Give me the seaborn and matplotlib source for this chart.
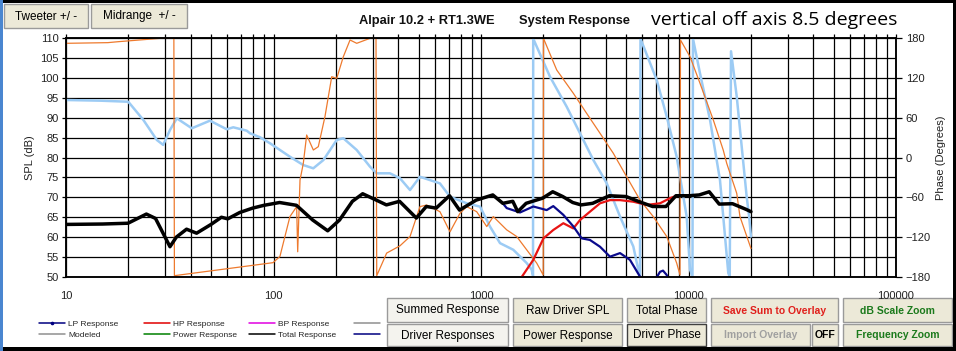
import matplotlib
matplotlib.use("Agg")
import matplotlib.pyplot as plt
import seaborn as sns
import pandas as pd
from matplotlib.lines import Line2D
from matplotlib.patches import Rectangle
from matplotlib.ticker import MultipleLocator, LogLocator, FuncFormatter, NullFormatter

# ---------------- data ----------------
freq_total = [10, 15, 19.9, 24.4, 27, 31.7, 34, 38.1, 42.6, 50, 56.1, 60.2, 68.8, 79.4, 90,
              107, 129, 154.5, 182.5, 208, 240, 269, 313, 350, 405, 488, 545, 608, 705, 788,
              948, 1140, 1274, 1423, 1504, 1650, 1983, 2216, 2477, 2768, 3036, 3453, 4155, 4998, 5794,
              6714, 7785, 8700, 10080, 11260, 12585, 14060, 16300, 18900, 20000]
spl_total = [63.2, 63.3, 63.5, 65.8, 64.7, 57.6, 60.0, 62.0, 61.0, 63.2, 65.0, 64.6, 66.2, 67.3, 68.0,
             68.7, 68.0, 64.3, 61.6, 64.3, 69.0, 70.9, 69.3, 68.1, 69.0, 64.8, 67.7, 67.3, 70.4, 66.8,
             69.3, 70.6, 68.5, 69.0, 66.4, 68.5, 69.8, 71.4, 70.2, 68.7, 68.1, 68.5, 70.4, 70.2, 68.9,
             67.7, 67.7, 70.4, 70.4, 70.6, 71.4, 68.3, 68.4, 67.0, 66.4]

freq_lp = [1274, 1330, 1542, 1786, 2073, 2230, 2493, 2786, 3057, 3350, 3746, 4185, 4677, 5224,
           5837, 6500, 7290, 7537, 7855, 8300, 10000]
spl_lp = [68.5, 67.3, 66.2, 67.7, 66.8, 67.8, 65.6, 62.7, 59.7, 59.3, 57.6, 55.1, 56.0, 54.3,
          50.1, 47.0, 51.3, 51.6, 50.5, 46.0, 40.0]

freq_hp = [1300, 1571, 1786, 2000, 2230, 2493, 2786, 3000, 3350, 3746, 4185, 4677, 5420, 6290,
           7290, 8150, 8770]
spl_hp = [40.0, 50.0, 54.3, 59.7, 61.8, 63.5, 62.2, 64.3, 66.4, 68.5, 69.3, 69.3, 68.9, 68.1,
          68.5, 69.8, 70.4]

freq_phase_a = [10, 14.6, 19.96, 23.6, 27.4, 29.4, 31.7, 34.2, 40.4, 49.4, 59.5, 64, 74.3, 77, 86.1,
                96.2, 120, 139, 155.5, 174, 201.7, 217, 251.8, 291.7, 314, 364, 407, 455, 508,
                634, 709, 853, 989, 1105, 1235, 1431, 1660, 1754, 1781, 1785, 2150, 2588, 3000,
                3477, 4035, 4677, 5420, 5728, 5837, 5870, 7028, 7855, 8770, 9800, 10170, 10450,
                10510, 11360, 12700, 14180, 15550, 15800, 16030, 17080, 19070, 19600, 20000]
phase_a = [86.6, 85.6, 84.0, 56.5, 26.4, 19.0, 41.4, 59.0, 44.0, 55.5, 42.5, 45.5, 40.4, 36.5, 30.5,
           21.4, 1.2, -11.3, -16.3, -3.8, 26.4, 29.0, 11.3, -13.8, -23.8, -23.8, -31.3, -49.0, -29.0,
           -39.0, -59.0, -69.0, -74.0, -104.0, -129.0, -139.0, -159.0, -169.0, -178.0, 179.0, 121.7, 76.5, 36.5,
           -3.7, -38.8, -89.0, -134.0, -169.0, -179.0, 179.0, 116.7, 61.5, 1.2, -89.0, -169.0, -179.0,
           179.0, 126.8, 56.5, -33.9, -174.0, -179.5, 160.0, 91.6, -59.0, -89.0, -119.0]

freq_phase_b = [10, 15.9, 17.8, 28.4, 33.1, 33.3, 99.5, 107.4, 120, 129.3, 130.8, 134.2, 139.2, 144.5,
                155.6, 164.4, 177, 190.8, 201.7, 217, 233.8, 251.8, 291.7, 311.9, 314.4, 351, 407,
                455, 508, 547, 634, 709, 792, 853, 953, 1066, 1146, 1330, 1486, 1660, 1855, 1995,
                2000, 2317, 2786, 3228, 3746, 4340, 5035, 5837, 6762, 7855, 8770, 9100, 9150,
                10170, 11360, 13170, 14700, 15280, 17080, 17700, 20000]
phase_b = [172.0, 173.0, 174.4, 179.5, 179.8, -178.0, -158.4, -149.0, -89.0, -74.0, -142.0, -34.0, -8.8, 33.9,
           11.3, 16.3, 61.5, 121.7, 119.2, 151.8, 177.0, 172.0, 179.5, 179.8, -178.0, -144.0, -133.0,
           -119.0, -74.0, -71.6, -81.6, -112.0, -84.0, -74.0, -81.6, -104.0, -89.0, -109.0, -119.0, -139.0, -159.0, -177.0,
           179.5, 131.8, 96.7, 66.6, 36.5, 6.4, -29.0, -64.0, -89.0, -119.0, -159.0, -177.0, 177.0,
           151.8, 111.8, 56.5, 11.3, -8.7, -54.0, -89.0, -137.0]

x_ticks = [10, 100, 1000, 10000, 100000]
spl_ticks = list(range(50, 111, 5))
phase_ticks = list(range(-180, 181, 60))

legend_cols = [
    [("LP Response", "#000080"), ("Modeled", "#909090")],
    [("HP Response", "#E00000"), ("Power Response", "#008000")],
    [("BP Response", "#E000E0"), ("Total Response", "#000000")],
    [("", "#909090"), ("", "#000080")],
]

# ---------------- figure ----------------
sns.set_theme(style="white")
plt.rcParams["font.family"] = ["Liberation Sans", "DejaVu Sans"]

W, H = 956, 351
fig = plt.figure(figsize=(W / 100, H / 100), dpi=100)
fig.patch.set_facecolor("white")

def fx(px):
    return px / W

def fy(py):
    return 1 - py / H

ax = fig.add_axes([fx(66), fy(277), (896 - 66) / W, (277 - 38) / H])
ax2 = ax.twinx()
ax.set_zorder(ax2.get_zorder() + 1)
ax.patch.set_visible(False)
ax2.patch.set_visible(False)
ax.set_xscale("log")

# phase curves (right axis, drawn below SPL curves)
sns.lineplot(x=freq_phase_a, y=phase_a, ax=ax2, sort=False, estimator=None,
             color="#9CCBF4", lw=1.8)
sns.lineplot(x=freq_phase_b, y=phase_b, ax=ax2, sort=False, estimator=None,
             color="#EE7A2E", lw=0.9)

# SPL curves
sns.lineplot(x=freq_hp, y=spl_hp, ax=ax, sort=False, estimator=None, color="#E81414", lw=1.6)
sns.lineplot(x=freq_lp, y=spl_lp, ax=ax, sort=False, estimator=None, color="#0A0A8C", lw=1.6)
sns.lineplot(x=freq_total, y=spl_total, ax=ax, sort=False, estimator=None, color="black", lw=2.5)

ax.set_xlim(10, 100000)
ax.set_ylim(50, 110)
ax2.set_ylim(-180, 180)

ax.xaxis.set_major_locator(LogLocator(base=10))
ax.xaxis.set_minor_locator(LogLocator(base=10, subs=[2, 3, 4, 5, 6, 7, 8, 9]))
ax.xaxis.set_major_formatter(FuncFormatter(lambda v, p: f"{int(round(v))}"))
ax.xaxis.set_minor_formatter(NullFormatter())
ax.yaxis.set_major_locator(MultipleLocator(5))
ax2.yaxis.set_major_locator(MultipleLocator(60))
ax2.yaxis.set_minor_locator(MultipleLocator(30))

# grid on the lower (phase) axes so curves sit on top
ax2.xaxis.set_visible(True)
ax2.tick_params(axis="x", which="both", bottom=False, top=False, labelbottom=False, labeltop=False)
ax2.grid(True, which="both", axis="x", color="black", lw=0.9)
ax2.grid(True, which="both", axis="y", color="black", lw=0.9)
ax2.tick_params(axis="y", which="minor", right=False, left=False)

ax.grid(False)
ax.tick_params(axis="x", which="both", bottom=False, top=True, direction="out", length=3,
               width=0.9, color="black", labelbottom=True, labelsize=8, labelcolor="#222222", pad=7)
ax.tick_params(axis="y", which="major", left=True, direction="out", length=3, width=0.9,
               color="black", labelsize=8, labelcolor="#222222", pad=2)
ax2.tick_params(axis="y", which="major", right=True, direction="out", length=4, width=0.9,
                color="black", labelsize=8, labelcolor="#222222", pad=3)

for a in (ax, ax2):
    for s in a.spines.values():
        s.set_color("black")
        s.set_linewidth(1.1)

ax.set_xlabel("")
ax.set_ylabel("SPL (dB)", fontsize=8, color="#222222", labelpad=4)
ax2.set_ylabel("Phase (Degrees)", fontsize=8, color="#222222", labelpad=4)

# ---------------- titles ----------------
fig.text(fx(359), fy(21), "Alpair 10.2 + RT1.3WE", fontsize=9.3, fontweight="bold",
         color="#111111", va="center", ha="left")
fig.text(fx(519), fy(21), "System Response", fontsize=9.3, fontweight="bold",
         color="#111111", va="center", ha="left")
fig.text(fx(651), fy(20), "vertical off axis 8.5 degrees", fontsize=14,
         family=["Open Sans", "DejaVu Sans"], color="black", va="center", ha="left")

# ---------------- legend ----------------
col_x = [39, 144, 249, 354]
for cx, items in zip(col_x, legend_cols):
    handles = []
    for i, (lab, col) in enumerate(items):
        if lab == "LP Response":
            handles.append(Line2D([], [], color=col, lw=1.1, marker="o", markersize=1.6))
        else:
            handles.append(Line2D([], [], color=col, lw=1.1))
    fig.legend(handles, [lab for lab, _ in items], loc="upper left",
               bbox_to_anchor=(fx(cx), fy(320)), frameon=False, fontsize=6,
               handlelength=3.1, handletextpad=0.4, borderpad=0, borderaxespad=0,
               labelspacing=0.35, numpoints=1)

# ---------------- buttons ----------------
def button(x0, y0, x1, y1, text, color="black", weight="normal", face="#ECE9D8",
           size=8.5, dark=False):
    fig.add_artist(Rectangle((fx(x0), fy(y1)), fx(x1 - x0), (y1 - y0) / H,
                             transform=fig.transFigure, facecolor=face,
                             edgecolor="#9A9A9A" if not dark else "#404040", lw=1))
    fig.text(fx((x0 + x1) / 2), fy((y0 + y1) / 2 + 0.5), text, ha="center", va="center",
             fontsize=size, color=color, fontweight=weight)

button(4, 4, 88, 28, "Tweeter +/ -")
button(91, 4, 187, 28, "Midrange  +/ -")

button(387, 298, 508, 322, "Summed Response", face="#F4F3EE")
button(513, 298, 622, 322, "Raw Driver SPL")
button(627, 298, 706, 322, "Total Phase")
button(711, 298, 838, 322, "Save Sum to Overlay", color="#E0201C", weight="bold", size=7.5)
button(843, 298, 952, 322, "dB Scale Zoom", color="#1C7A1C", weight="bold", size=7.5)

button(387, 324, 508, 346, "Driver Responses", face="#F4F3EE")
button(513, 324, 622, 346, "Power Response")
button(627, 324, 706, 346, "Driver Phase", dark=True)
button(711, 324, 810, 346, "Import Overlay", color="#A0A0A0", weight="bold", size=7.5)
button(812, 324, 838, 346, "OFF", weight="bold", size=7.5)
button(843, 324, 952, 346, "Frequency Zoom", color="#1C7A1C", weight="bold", size=7.5)

# ---------------- window frame ----------------
fig.add_artist(Rectangle((0, fy(3)), 1, 3 / H, transform=fig.transFigure, color="black", lw=0))
fig.add_artist(Rectangle((0, 0), 1, 4 / H, transform=fig.transFigure, color="black", lw=0))
fig.add_artist(Rectangle((fx(953), 0), fx(3), 1, transform=fig.transFigure, color="black", lw=0))
fig.add_artist(Rectangle((0, 0), fx(3), 1, transform=fig.transFigure, color="#4A86D0", lw=0))

fig.savefig("out.png", dpi=100)
